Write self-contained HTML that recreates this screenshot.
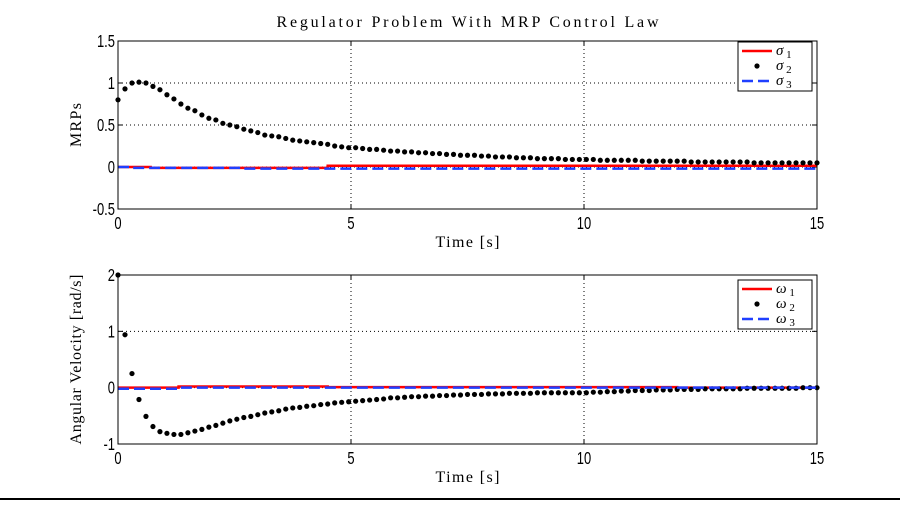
<!DOCTYPE html>
<html><head><meta charset="utf-8"><style>
body{margin:0;background:#fff;}
svg text{font-family:"Liberation Sans",sans-serif;}
.ser{font-family:"Liberation Serif",serif;}
</style></head><body>
<svg id="chart" width="900" height="502" viewBox="0 0 900 502" xmlns="http://www.w3.org/2000/svg">
<rect width="900" height="502" fill="#fff"/>
<line x1="0" y1="499" x2="900" y2="499" stroke="#000" stroke-width="2"/>
</svg>
<script>
const xTicks=[0,5,10,15];
const y1Ticks=[1.5,1,0.5,0,-0.5];
const y1TickLabels=["1.5","1","0.5","0","-0.5"];
const y2Ticks=[2,1,0,-1];
const y2TickLabels=["2","1","0","-1"];
const dt=0.15;
const sigma2=[0.80,0.93,1.00,1.01,1.00,0.96,0.92,0.86,0.81,0.75,0.70,0.67,0.62,0.58,0.56,0.52,0.50,0.48,0.45,0.43,0.41,0.38,0.37,0.36,0.34,0.32,0.31,0.30,0.29,0.28,0.27,0.25,0.24,0.23,0.23,0.22,0.21,0.21,0.20,0.19,0.19,0.18,0.18,0.17,0.17,0.16,0.16,0.15,0.15,0.14,0.14,0.14,0.13,0.13,0.12,0.12,0.12,0.11,0.11,0.11,0.10,0.10,0.10,0.10,0.09,0.09,0.09,0.09,0.09,0.08,0.08,0.08,0.08,0.08,0.08,0.07,0.07,0.07,0.07,0.07,0.07,0.07,0.06,0.06,0.06,0.06,0.06,0.06,0.06,0.06,0.06,0.05,0.05,0.05,0.05,0.05,0.05,0.05,0.05,0.05,0.05];
const sigma1T=[0,0.7,0.7,4.5,4.5,15];
const sigma1V=[0,0,-0.01,-0.01,0.015,0.015];
const sigma3T=[0,0.3,0.3,2.7,2.7,15];
const sigma3V=[0,0,-0.01,-0.01,-0.02,-0.02];
const omega2=[2.0,0.94,0.25,-0.21,-0.51,-0.69,-0.78,-0.81,-0.83,-0.83,-0.80,-0.77,-0.74,-0.70,-0.67,-0.63,-0.59,-0.56,-0.53,-0.51,-0.48,-0.45,-0.43,-0.41,-0.38,-0.36,-0.35,-0.33,-0.32,-0.30,-0.29,-0.27,-0.26,-0.25,-0.24,-0.23,-0.22,-0.21,-0.20,-0.18,-0.18,-0.17,-0.16,-0.16,-0.15,-0.15,-0.14,-0.14,-0.13,-0.13,-0.12,-0.12,-0.12,-0.11,-0.11,-0.11,-0.10,-0.10,-0.10,-0.10,-0.09,-0.09,-0.09,-0.09,-0.09,-0.09,-0.09,-0.09,-0.08,-0.08,-0.07,-0.07,-0.06,-0.06,-0.05,-0.05,-0.05,-0.04,-0.04,-0.04,-0.03,-0.03,-0.03,-0.03,-0.02,-0.02,-0.02,-0.02,-0.02,-0.02,-0.01,-0.01,-0.01,-0.01,-0.01,-0.01,-0.01,-0.01,0,0,0];
const omega1T=[0,1.3,1.3,4.5,4.5,12,12,15];
const omega1V=[0,0,0.02,0.02,0.01,0.01,0,0];
const omega3T=[0,1.3,1.3,15];
const omega3V=[-0.02,-0.02,0,0];

const svg=document.getElementById('chart');
const NS='http://www.w3.org/2000/svg';
function mk(tag,attrs,parent){const e=document.createElementNS(NS,tag);for(const k in attrs)e.setAttribute(k,attrs[k]);(parent||svg).appendChild(e);return e;}
const X0=118,X1=817;
function xs(t){return X0+(t/15)*(X1-X0);}
const SX=0.72;

function panel(cfg){
  const {top,bot,ymin,ymax,yT,yL,name}=cfg;
  const ys=v=>bot-(v-ymin)/(ymax-ymin)*(bot-top);
  const g=mk('g',{});
  
  
  mk('rect',{x:X0,y:top,width:X1-X0,height:bot-top,fill:'#fff',stroke:'none'},g);
  xTicks.forEach(t=>{
    if(t>0&&t<15){const l=mk('line',{x1:xs(t),y1:top,x2:xs(t),y2:bot,stroke:'#000','stroke-width':1,'stroke-dasharray':'1 3'},g);
      }
    mk('line',{x1:xs(t),y1:bot,x2:xs(t),y2:bot-5,stroke:'#000'},g);
    mk('line',{x1:xs(t),y1:top,x2:xs(t),y2:top+5,stroke:'#000'},g);
    const tx=mk('text',{x:xs(t),y:bot+20,'text-anchor':'middle','font-size':18,transform:`translate(${xs(t)*(1-SX)},0) scale(${SX},1)`},g);
    tx.textContent=t;
    
  });
  yT.forEach((v,i)=>{
    if(v>ymin&&v<ymax){const l=mk('line',{x1:X0,y1:ys(v),x2:X1,y2:ys(v),stroke:'#000','stroke-width':1,'stroke-dasharray':'1 3'},g);
      }
    mk('line',{x1:X0,y1:ys(v),x2:X0+5,y2:ys(v),stroke:'#000'},g);
    mk('line',{x1:X1,y1:ys(v),x2:X1-5,y2:ys(v),stroke:'#000'},g);
    const tx=mk('text',{x:X0-3,y:ys(v)+6,'text-anchor':'end','font-size':18,transform:`translate(${(X0-3)*(1-SX)},0) scale(${SX},1)`},g);
    tx.textContent=yL[i];
    
  });
  const line=(T,V,col,dash,nm)=>{
    const p=mk('polyline',{points:T.map((t,i)=>xs(t)+','+ys(V[i])).join(' '),fill:'none',stroke:col,'stroke-width':2.5,'stroke-dasharray':dash},g);
    
  };
  line(cfg.s1T,cfg.s1V,'#ff0000','none',cfg.n1);
  cfg.s2.forEach((v,i)=>{
    const c=mk('circle',{cx:xs(i*dt),cy:ys(v),r:2.6,fill:'#000'},g);
    
  });
  line(cfg.s3T,cfg.s3V,'#1f3fff','11 5',cfg.n3);
  mk('rect',{x:X0,y:top,width:X1-X0,height:bot-top,fill:'none',stroke:'#000','stroke-width':1},g);
  const lg=mk('g',{},g);
  
  const lx=738,ly=cfg.legY;
  mk('rect',{x:lx,y:ly,width:74,height:49,fill:'#fff',stroke:'#000'},lg);
  [1,2,3].forEach((n,i)=>{
    const yy=ly+9+i*15;
    if(i==0)mk('line',{x1:lx+4,y1:yy,x2:lx+34,y2:yy,stroke:'#ff0000','stroke-width':2.5},lg);
    if(i==1)mk('circle',{cx:lx+19,cy:yy,r:2.6,fill:'#000'},lg);
    if(i==2)mk('line',{x1:lx+4,y1:yy,x2:lx+34,y2:yy,stroke:'#1f3fff','stroke-width':2.5,'stroke-dasharray':'11 5'},lg);
    const t=mk('text',{x:lx+38,y:yy+4,'font-size':15,'font-style':'italic',class:'ser'},lg);
    t.innerHTML=cfg.sym+'<tspan dy="3" font-size="11" font-style="normal"> '+n+'</tspan>';
    
  });
  const xl=mk('text',{x:(X0+X1)/2,y:bot+38,'text-anchor':'middle','font-size':16,class:'ser',textLength:64,lengthAdjust:'spacing'},g);
  xl.textContent='Time [s]';
  
  const yl=mk('text',{x:0,y:0,'text-anchor':'middle','font-size':16,class:'ser',textLength:cfg.ylen,lengthAdjust:'spacing',transform:`translate(81,${(top+bot)/2}) rotate(-90)`},g);
  yl.textContent=cfg.ylabel;
  
}
const title=mk('text',{x:(X0+X1)/2,y:27,'text-anchor':'middle','font-size':16,class:'ser',textLength:382,lengthAdjust:'spacing'});
title.textContent='Regulator Problem With MRP Control Law';


panel({name:'mrp-plot',top:41,bot:209,ymin:-0.5,ymax:1.5,yT:y1Ticks,yL:y1TickLabels,s1T:sigma1T,s1V:sigma1V,s2:sigma2,s3T:sigma3T,s3V:sigma3V,n1:'sigma1-line',n2:'sigma2-point',n3:'sigma3-line',legY:42,sym:'σ',ylabel:'MRPs',ylen:44});
panel({name:'angular-velocity-plot',top:275,bot:444,ymin:-1,ymax:2,yT:y2Ticks,yL:y2TickLabels,s1T:omega1T,s1V:omega1V,s2:omega2,s3T:omega3T,s3V:omega3V,n1:'omega1-line',n2:'omega2-point',n3:'omega3-line',legY:280,sym:'ω',ylabel:'Angular Velocity [rad/s]',ylen:170});
</script>
</body></html>
